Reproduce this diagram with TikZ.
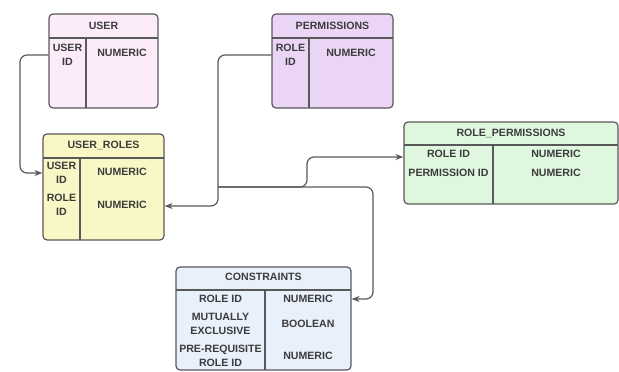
\documentclass[tikz,border=0pt]{standalone}
\usepackage{fontspec}
\setsansfont{Liberation Sans}
\usetikzlibrary{arrows.meta}
\definecolor{erUser}{HTML}{FCECFA}
\definecolor{erPerm}{HTML}{EBD5F7}
\definecolor{erUR}{HTML}{FAF7C6}
\definecolor{erRP}{HTML}{DFF7DF}
\definecolor{erCon}{HTML}{E8F0FB}
\definecolor{erLine}{HTML}{595959}
\definecolor{erInk}{HTML}{3C3C3C}
\begin{document}
\begin{tikzpicture}[x=1pt, y=-1pt, font=\sffamily\bfseries\fontsize{10.6}{13.5}\selectfont,
  tbl/.style={draw=erLine, line width=1.2pt, rounded corners=4pt, inner sep=0pt},
  rule/.style={draw=erLine, line width=1.2pt},
  hdr/.style={text=erInk, inner sep=1pt},
  fld/.style={text=erInk, align=center, inner sep=1pt},
  link/.style={draw=erLine, line width=1.2pt, rounded corners=7pt},
]
\useasboundingbox (0,0) rectangle (619,372);
% ---- USER ----
\node[tbl, fill=erUser, minimum width=109pt, minimum height=94pt] (user) at (103.5,61){};
\draw[rule] (49,38) -- (158,38) (86,38) -- (86,108);
\node[hdr] (userH) at (103.5,26){USER};
\node[fld] (userId) at (67.5,55){USER\\ID};
\node[fld] (userIdT) at (122,53){NUMERIC};
% ---- PERMISSIONS ----
\node[tbl, fill=erPerm, minimum width=121pt, minimum height=94pt] (perm) at (332.5,61){};
\draw[rule] (272,38) -- (393,38) (309,38) -- (309,108);
\node[hdr] (permH) at (332.5,26){PERMISSIONS};
\node[fld] (permId) at (290.5,55){ROLE\\ID};
\node[fld] (permIdT) at (351,53){NUMERIC};
% ---- USER_ROLES ----
\node[tbl, fill=erUR, minimum width=121pt, minimum height=106pt] (ur) at (103.5,187){};
\draw[rule] (43,158) -- (164,158) (80,158) -- (80,240);
\node[hdr] (urH) at (103.5,145){USER\_ROLES};
\node[fld] (urUser) at (61.5,173){USER\\ID};
\node[fld] (urUserT) at (122,172){NUMERIC};
\node[fld] (urRole) at (61.5,205){ROLE\\ID};
\node[fld] (urRoleT) at (122,205){NUMERIC};
% ---- ROLE_PERMISSIONS ----
\node[tbl, fill=erRP, minimum width=214pt, minimum height=82pt] (rp) at (511,163){};
\draw[rule] (404,145) -- (618,145) (493,145) -- (493,204);
\node[hdr] (rpH) at (511,133){ROLE\_PERMISSIONS};
\node[fld] (rpRole) at (448.5,154){ROLE ID};
\node[fld] (rpRoleT) at (556,154){NUMERIC};
\node[fld] (rpPerm) at (448.5,173){PERMISSION ID};
\node[fld] (rpPermT) at (556,173){NUMERIC};
% ---- CONSTRAINTS ----
\node[tbl, fill=erCon, minimum width=175pt, minimum height=103pt] (con) at (263.5,318.5){};
\draw[rule] (176,290) -- (351,290) (265,290) -- (265,370);
\node[hdr] (conH) at (263.5,277){CONSTRAINTS};
\node[fld] (conRole) at (220.5,299){ROLE ID};
\node[fld] (conRoleT) at (308,299){NUMERIC};
\node[fld] (conMut) at (220.5,324){MUTUALLY\\EXCLUSIVE};
\node[fld] (conMutT) at (308,324){BOOLEAN};
\node[fld] (conPre) at (220.5,356){PRE-REQUISITE\\ROLE ID};
\node[fld] (conPreT) at (308,356){NUMERIC};
% ---- connectors ----
\coordinate (userLoop) at (20,120);
\coordinate (hub) at (218,187);
\coordinate (rpBend) at (307,187);
\coordinate (conBend) at (373,187);
\draw[link, -{Stealth[length=8pt, width=6pt]}] (user.west |- userId) -| (userLoop) |- (ur.west |- urUser);
\draw[link, -{Stealth[length=8pt, width=6pt]}] (perm.west |- permId) -| (hub) |- (ur.east |- 0,206);
\draw[link, -{Stealth[length=8pt, width=6pt]}] (hub) -- (rpBend) |- (rp.west |- 0,157);
\draw[link, -{Stealth[length=8pt, width=6pt]}] (hub) -- (conBend) |- (con.east |- conRole);
\end{tikzpicture}
\end{document}
